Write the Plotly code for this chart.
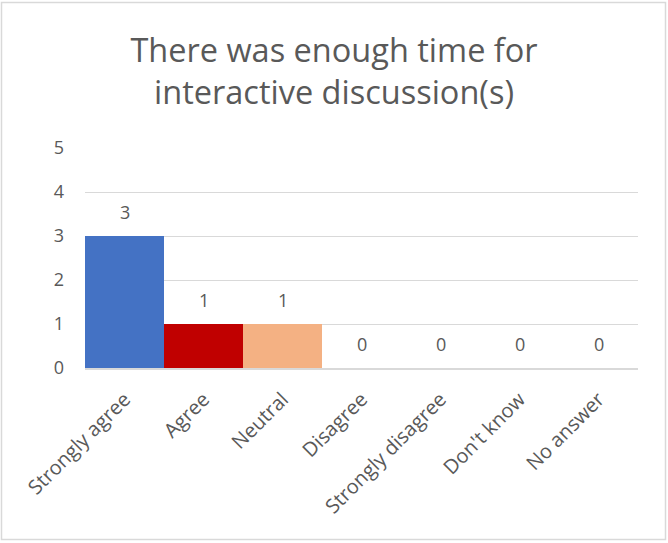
import plotly.graph_objects as go

categories = ["Strongly agree", "Agree", "Neutral", "Disagree", "Strongly disagree", "Don't know", "No answer"]
values = [3, 1, 1, 0, 0, 0, 0]
colors = ["#4472C4", "#C00000", "#F4B183", "#A5A5A5", "#FFC000", "#5B9BD5", "#70AD47"]
y_ticks = [0, 1, 2, 3, 4, 5]
title_text = "There was enough time for<br>interactive discussion(s)"

W, H = 668, 543
ml, mr, mt, mb = 85, 30, 148, 175
pw, ph = W - ml - mr, H - mt - mb
FONT = "Open Sans"
GREY = "#595959"

fig = go.Figure(go.Bar(
    x=categories, y=values,
    marker=dict(color=colors, line=dict(width=0)),
    hoverinfo="x+y",
))

for c, v in zip(categories, values):
    fig.add_annotation(x=c, y=v, text=str(v), showarrow=False, yanchor="middle",
                       yshift=24, font=dict(size=18, color=GREY, family=FONT))

fig.update_layout(
    width=W, height=H,
    margin=dict(l=ml, r=mr, t=mt, b=mb),
    paper_bgcolor="white", plot_bgcolor="white",
    bargap=0,
    showlegend=False,
    title=dict(text=title_text, x=0.5, xanchor="center", y=1 - 62 / H, yanchor="top",
               font=dict(size=32.5, color=GREY, family=FONT)),
    font=dict(family=FONT, color=GREY, size=18),
    xaxis=dict(tickangle=-45, tickfont=dict(size=20, color=GREY), showgrid=False,
               showline=True, linecolor="#D9D9D9", linewidth=1.5, ticks="",
               ticklabelstandoff=10),
    yaxis=dict(range=[0, 5], tickvals=y_ticks, showgrid=True, gridcolor="#D9D9D9", gridwidth=1,
               zeroline=False, showline=False, ticks="", ticklabelstandoff=20,
               tickfont=dict(size=18, color=GREY)),
    shapes=[dict(type="rect", xref="paper", yref="paper",
                 x0=(1.5 - ml) / pw, x1=(W - 2.5 - ml) / pw,
                 y0=-(mb - 3.5) / ph,
                 y1=1 + (mt - 2.5) / ph,
                 line=dict(color="#D9D9D9", width=1.5), layer="below")],
)

fig.write_html("out.html")
